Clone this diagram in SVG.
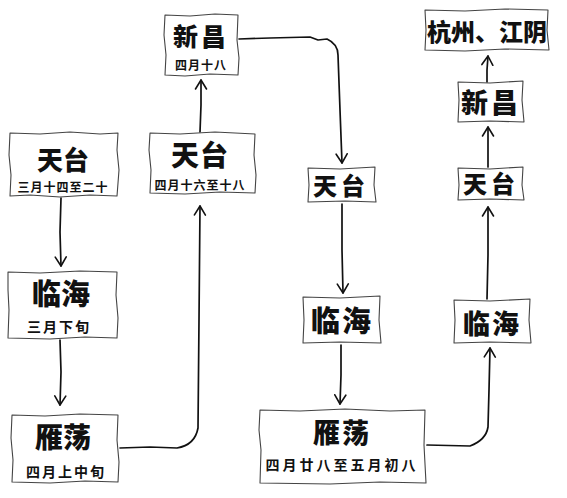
<svg xmlns="http://www.w3.org/2000/svg" width="567" height="498" viewBox="0 0 567 498">
<style>
.box{fill:#fff;stroke:#444;stroke-width:1.1;stroke-linejoin:round}
.big{font-family:"Noto Sans CJK SC","Noto Sans CJK JP",sans-serif;font-weight:900;fill:#111;text-anchor:middle}
.small{font-family:"Noto Sans CJK SC","Noto Sans CJK JP",sans-serif;font-weight:700;fill:#111;text-anchor:middle}
.conn{fill:none;stroke:#111;stroke-width:1.7;stroke-linecap:round;stroke-linejoin:round}
</style>
<defs>
<marker id="arr" markerUnits="userSpaceOnUse" markerWidth="20" markerHeight="20" refX="10" refY="10" orient="auto" viewBox="0 0 20 20">
<path d="M1,4.5 L10,10 L1,15.5" fill="none" stroke="#111" stroke-width="1.6" stroke-linecap="round" stroke-linejoin="round"/>
</marker>
</defs>
<rect width="567" height="498" fill="#fff"/>
<g id="connectors">
<path class="conn" d="M61,198 L60,232 L61,266" marker-end="url(#arr)"/>
<path class="conn" d="M60,340 L61,372 L60,405" marker-end="url(#arr)"/>
<path class="conn" d="M120,448 L150,447 L177,448 Q195,445 198,428 L199,320 L200,206" marker-end="url(#arr)"/>
<path class="conn" d="M200,132 L201,105 L201,80" marker-end="url(#arr)"/>
<path class="conn" d="M239,39 L270,38 L310,37 L318,40 L327,39 Q338,44 338,55 L340,110 L342,163" marker-end="url(#arr)"/>
<path class="conn" d="M342,204 L342,250 L343,293" marker-end="url(#arr)"/>
<path class="conn" d="M341,345 L341,375 L340,404" marker-end="url(#arr)"/>
<path class="conn" d="M427,445 L470,446 Q486,440 488,427 L489,390 L490,348" marker-end="url(#arr)"/>
<path class="conn" d="M487,299 L488,255 L488,207" marker-end="url(#arr)"/>
<path class="conn" d="M488,167 L488,147 L488,127" marker-end="url(#arr)"/>
<path class="conn" d="M487,82 L487,70 L488,56" marker-end="url(#arr)"/>
</g>
<g id="n1">
<path class="box" d="M10,133 L40,134 L70,132 L100,134 L118,133 L117,150 L119,170 L117,196 L90,195 L60,197 L30,195 L10,196 L11,175 L9,155 Z"/>
<text class="big" x="63" y="170" font-size="26">天台</text>
<text class="small" x="63" y="192" font-size="12" letter-spacing="1">三月十四至二十</text>
</g>
<g id="n2">
<path class="box" d="M8,272 L40,273 L80,271 L117,272 L116,295 L118,318 L117,338 L85,337 L50,339 L8,338 L9,310 L8,290 Z"/>
<text class="big" x="61" y="305" font-size="29">临海</text>
<text class="small" x="59" y="332" font-size="14" letter-spacing="2">三月下旬</text>
</g>
<g id="n3">
<path class="box" d="M12,415 L45,416 L80,414 L118,415 L117,440 L119,462 L118,482 L85,481 L50,483 L12,482 L13,460 L11,438 Z"/>
<text class="big" x="63" y="448" font-size="28">雁荡</text>
<text class="small" x="66" y="477" font-size="14" letter-spacing="2">四月上中旬</text>
</g>
<g id="n4">
<path class="box" d="M165,15 L190,16 L215,14 L238,15 L237,40 L239,58 L238,75 L210,74 L185,76 L165,75 L166,55 L164,35 Z"/>
<text class="big" x="201" y="46" font-size="25" letter-spacing="3">新昌</text>
<text class="small" x="201" y="70" font-size="12" letter-spacing="1">四月十八</text>
</g>
<g id="n5">
<path class="box" d="M150,133 L180,134 L215,132 L255,134 L254,155 L256,175 L255,193 L220,192 L185,194 L150,193 L151,170 L149,150 Z"/>
<text class="big" x="200" y="166" font-size="28" letter-spacing="1">天台</text>
<text class="small" x="200" y="190" font-size="12" letter-spacing="1">四月十六至十八</text>
</g>
<g id="n6">
<path class="box" d="M308,168 L340,169 L375,167 L374,185 L376,202 L345,201 L308,202 L309,185 Z"/>
<text class="big" x="341" y="195" font-size="24" letter-spacing="4">天台</text>
</g>
<g id="n7">
<path class="box" d="M303,297 L340,298 L380,296 L379,320 L381,343 L340,342 L303,343 L304,320 Z"/>
<text class="big" x="342" y="332" font-size="29" letter-spacing="2">临海</text>
</g>
<g id="n8">
<path class="box" d="M260,410 L300,411 L345,409 L390,411 L425,410 L424,445 L426,483 L380,482 L330,484 L260,483 L261,450 L259,430 Z"/>
<text class="big" x="342" y="443" font-size="27" letter-spacing="2">雁荡</text>
<text class="small" x="342" y="470" font-size="14" letter-spacing="3">四月廿八至五月初八</text>
</g>
<g id="n9">
<path class="box" d="M454,300 L490,301 L530,299 L529,320 L531,343 L490,342 L454,343 L455,320 Z"/>
<text class="big" x="492" y="334" font-size="27" letter-spacing="2">临海</text>
</g>
<g id="n10">
<path class="box" d="M458,168 L490,169 L523,167 L522,185 L524,200 L490,199 L458,200 L459,185 Z"/>
<text class="big" x="491" y="193" font-size="24" letter-spacing="4">天台</text>
</g>
<g id="n11">
<path class="box" d="M458,82 L490,83 L523,81 L522,100 L524,122 L490,121 L458,122 L459,100 Z"/>
<text class="big" x="491" y="113" font-size="27" letter-spacing="3">新昌</text>
</g>
<g id="n12">
<path class="box" d="M425,10 L465,11 L505,9 L548,10 L547,30 L549,50 L505,49 L465,51 L425,50 L426,30 Z"/>
<text class="big" x="487" y="41" font-size="24" letter-spacing="0">杭州、江阴</text>
</g>
</svg>
